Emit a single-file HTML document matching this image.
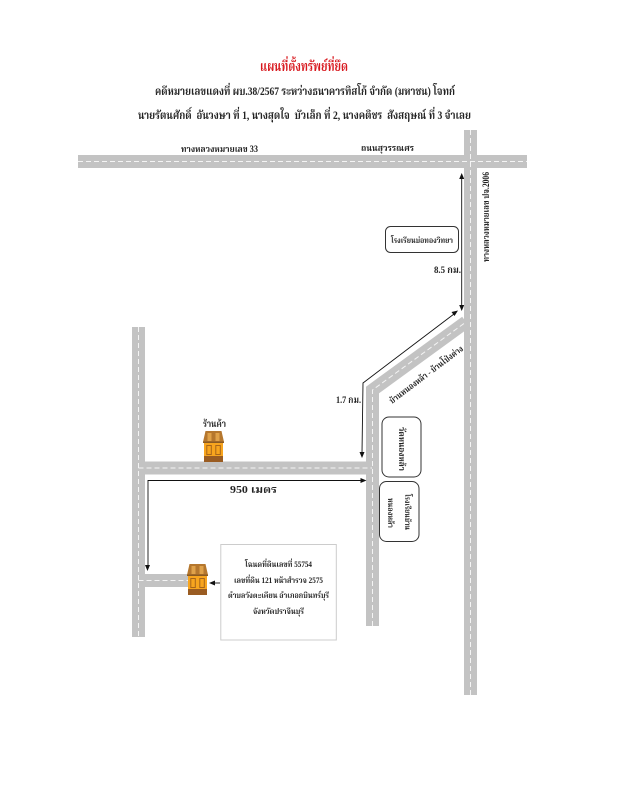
<!DOCTYPE html>
<html><head><meta charset="utf-8">
<style>
html,body{margin:0;padding:0;background:#fff;width:618px;height:800px;overflow:hidden}
svg{display:block}
text{font-family:"Liberation Serif","Noto Serif Thai","Norasi","Garuda",serif;font-weight:bold;fill:#222;font-size:9px}
.r{fill:none;stroke:#c3c3c3;stroke-width:13}
.d{fill:none;stroke:#f4f4f4;stroke-width:1;stroke-dasharray:5 3}
.a{fill:none;stroke:#111;stroke-width:.9}
.b{fill:#fff;stroke:#333;stroke-width:1}
</style></head><body>
<svg width="618" height="800" viewBox="0 0 618 800" xmlns="http://www.w3.org/2000/svg">
<defs>
<g id="h">
<path d="M0 11 L2.500 0 H18.500 L21 11Z" fill="#b5772e"/>
<rect x="4.500" y="2" width="4" height="8" fill="#e0a24a"/>
<rect x="12.500" y="2" width="4" height="8" fill="#e0a24a"/>
<rect x="0" y="10.500" width="21" height="1.500" fill="#8a5a22"/>
<rect x="1" y="12" width="19" height="14" fill="#f8a51e"/>
<rect x="3.800" y="14.500" width="4.500" height="9" fill="#f8a51e" stroke="#a8651a"/>
<rect x="12.800" y="14.500" width="4.500" height="9" fill="#f8a51e" stroke="#a8651a"/>
<rect x="1" y="25" width="19" height="6" fill="#9a5c22"/>
</g>
</defs>
<rect width="618" height="800" fill="#fff"/>

<!-- Roads -->
<path class="r" d="M78 161.500H527"/>
<path class="r" d="M470.500 130V695"/>
<path class="r" d="M138.500 327V637"/>
<path class="r" d="M138.500 468H372"/>
<path class="r" d="M138.500 580.500H190"/>
<path class="r" d="M372.500 626V390L466 322"/>
<path class="d" d="M78 161.500H527"/>
<path class="d" d="M470.500 130V695"/>
<path class="d" d="M138.500 327V637"/>
<path class="d" d="M138.500 468H372"/>
<path class="d" d="M138.500 580.500H190"/>
<path class="d" d="M372.500 626V390L466 322"/>

<!-- Arrows -->
<path class="a" d="M461.700 178V306"/>
<path d="M461.700 173l-2.500 6h5z M461.700 311l-2.500 -6h5z" fill="#111"/>
<path class="a" d="M454 314L363 383L362 453"/>
<path d="M458 310.500l-6.500 1.500 3 4z M362 458l-2.500 -6h5z" fill="#111"/>
<path class="a" d="M361 480.500H148V566"/>
<path d="M366.500 480.500l-6 -2.500v5z M147.500 571l-2.500 -6h5z" fill="#111"/>
<path class="a" d="M220 583H214"/>
<path d="M209 583l6 -2.500v5z" fill="#111"/>

<!-- Boxes -->
<rect x="385.500" y="226.500" width="73" height="26" rx="5" class="b"/>
<rect x="382" y="417" width="39" height="60" rx="7" class="b"/>
<rect x="379.500" y="481.500" width="39.500" height="60" rx="7" class="b"/>
<rect x="220.800" y="544.500" width="115.500" height="95.500" fill="#fff" stroke="#ccc" stroke-width="1"/>

<!-- Houses -->
<use href="#h" x="203" y="431"/>
<use href="#h" x="187" y="564"/>

<!-- Titles -->
<text x="304" y="71" style="fill:#d8181e;font-size:14px" text-anchor="middle" textLength="88" lengthAdjust="spacingAndGlyphs">แผนที่ตั้งทรัพย์ที่ยึด</text>
<text x="155" y="95" style="font-size:11.500px" textLength="300" lengthAdjust="spacingAndGlyphs">คดีหมายเลขแดงที่ ผบ.38/2567 ระหว่างธนาคารทิสโก้ จำกัด (มหาชน) โจทก์</text>
<text x="138" y="119" style="font-size:11.500px;white-space:pre" textLength="333" lengthAdjust="spacingAndGlyphs">นายรัตนศักดิ์  อันวงษา ที่ 1, นางสุดใจ  บัวเล็ก ที่ 2, นางคติชร  สังสฤษณ์ ที่ 3 จำเลย</text>

<!-- Road labels -->
<text x="181" y="152" textLength="77" lengthAdjust="spacingAndGlyphs">ทางหลวงหมายเลข 33</text>
<text x="361" y="151" textLength="53" lengthAdjust="spacingAndGlyphs">ถนนสุวรรณศร</text>
<text transform="translate(489,262) rotate(-90)" textLength="90" lengthAdjust="spacingAndGlyphs">ทางหลวงหมายเลข ปจ.2006</text>
<text transform="translate(392,404) rotate(-37)" style="font-size:8.500px" textLength="90" lengthAdjust="spacingAndGlyphs">บ้านหนองหล้า - บ้านโป่งต่าง</text>

<!-- Distances -->
<text x="434" y="273" style="font-size:9.500px" textLength="27" lengthAdjust="spacingAndGlyphs">8.5 กม.</text>
<text x="336" y="403" style="font-size:9.500px" textLength="25" lengthAdjust="spacingAndGlyphs">1.7 กม.</text>
<text x="230" y="493" style="font-size:10.500px" textLength="47" lengthAdjust="spacingAndGlyphs">950 เมตร</text>
<text x="203" y="427" style="font-size:10px" textLength="23" lengthAdjust="spacingAndGlyphs">ร้านค้า</text>

<!-- Box labels -->
<text x="391" y="243" style="font-size:8px" textLength="62" lengthAdjust="spacingAndGlyphs">โรงเรียนบ่อทองวิทยา</text>
<text transform="translate(399,427) rotate(90)" textLength="44" lengthAdjust="spacingAndGlyphs">วัดหนองหล้า</text>
<text transform="translate(405,494) rotate(90)" style="font-size:8px" textLength="36" lengthAdjust="spacingAndGlyphs">โรงเรียนบ้าน</text>
<text transform="translate(388,498) rotate(90)" style="font-size:8px" textLength="30" lengthAdjust="spacingAndGlyphs">หนองหล้า</text>

<!-- Info box -->
<text x="245" y="567" style="font-size:8px" textLength="67" lengthAdjust="spacingAndGlyphs">โฉนดที่ดินเลขที่ 55754</text>
<text x="234" y="583" style="font-size:8px" textLength="89" lengthAdjust="spacingAndGlyphs">เลขที่ดิน 121 หน้าสำรวจ 2575</text>
<text x="228" y="598" style="font-size:8px" textLength="101" lengthAdjust="spacingAndGlyphs">ตำบลวังตะเคียน อำเภอกบินทร์บุรี</text>
<text x="253" y="614" style="font-size:8px" textLength="51" lengthAdjust="spacingAndGlyphs">จังหวัดปราจีนบุรี</text>
</svg>
</body></html>
